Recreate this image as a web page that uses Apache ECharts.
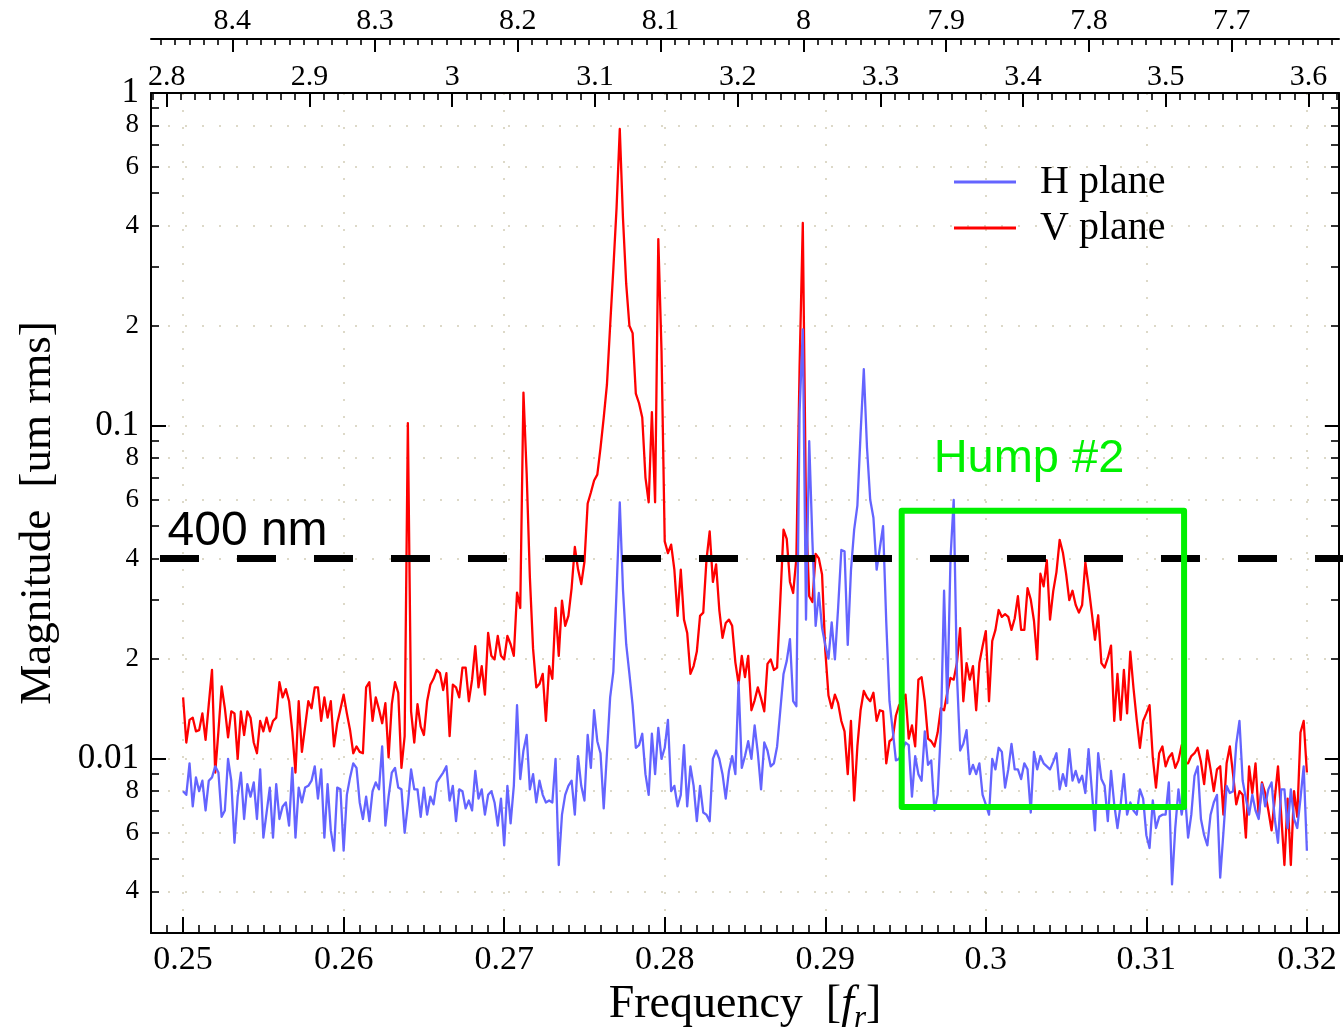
<!DOCTYPE html>
<html>
<head>
<meta charset="utf-8">
<title>H / V plane magnitude spectrum</title>
<script src="https://cdn.jsdelivr.net/npm/echarts@6/dist/echarts.min.js"></script>
<style>
  html, body { margin: 0; padding: 0; background: #ffffff; }
  #chart { width: 1344px; height: 1031px; }
</style>
</head>
<body>
<div id="chart"></div>
<script>
// Frequency bins of both spectra (units of f_r)
const FREQ_START = 0.25;
const FREQ_STEP = 0.0002;

// Vertical-plane magnitude, nm rms, one value per bin from 0.2500 to 0.3200
const vPlaneNm = [
  15.3, 11.2, 13.1, 13.3, 12.1, 12.2, 13.7, 11.4, 14.6, 18.5,
  9.1, 12.1, 16.5, 14.2, 11.6, 13.9, 13.7, 10.0, 13.9, 11.8,
  13.9, 13.3, 11.2, 10.4, 13.0, 12.1, 13.3, 12.1, 13.0, 13.3,
  17.0, 15.3, 16.2, 14.9, 12.1, 9.1, 14.9, 10.5, 12.5, 14.9,
  14.2, 16.4, 16.4, 13.0, 15.3, 13.3, 14.9, 10.9, 12.8, 14.1,
  15.6, 13.7, 12.2, 10.4, 10.9, 10.5, 10.4, 16.4, 17.0, 13.0,
  15.3, 14.1, 12.8, 14.7, 10.1, 14.6, 17.0, 15.8, 9.4, 11.7,
  102, 13.9, 11.2, 14.6, 12.5, 11.8, 14.9, 16.7, 17.4, 18.5,
  18.1, 16.1, 18.1, 11.7, 16.7, 16.4, 15.3, 18.8, 18.8, 14.9,
  17.3, 21.8, 16.4, 19.0, 15.6, 23.9, 20.4, 19.9, 23.4, 20.4,
  19.9, 23.4, 22.1, 20.4, 31.6, 28.4, 126, 72, 35.1, 21.4,
  16.4, 16.8, 18.0, 13.0, 19.0, 17.4, 28.4, 20.4, 29.9, 25.1,
  26.9, 32.6, 43.3, 37.1, 33.5, 39.1, 58.5, 63.1, 68.6, 71.4,
  86, 106, 133, 200, 297, 452, 780, 420, 267, 200,
  190, 125, 117, 106, 70, 59, 110, 59, 364, 168,
  45, 41.5, 44, 37, 26.9, 37, 26.2, 23.9, 18.0, 19.0,
  21.0, 26.9, 27.5, 39.6, 48.2, 34, 38.4, 28, 23.1, 25.6,
  26.2, 25.1, 19.5, 16.8, 20.4, 17.6, 20.4, 14.0, 15.0, 16.4,
  15.2, 13.9, 19.3, 19.9, 18.5, 18.8, 30, 48.8, 45.8, 34,
  31.5, 40, 150, 407, 55, 30.8, 29.6, 41.3, 40, 35.8,
  21.2, 15.5, 14.2, 15.6, 14.7, 13.0, 12.1, 9.0, 13.0, 7.5,
  10.9, 14.0, 16.0, 15.3, 14.9, 15.8, 13.0, 14.0, 13.9, 9.7,
  11.3, 11.5, 13.5, 14.5, 14.9, 15.6, 11.5, 12.6, 10.9, 17.3,
  17.6, 14.9, 11.5, 11.3, 10.9, 12.0, 14.2, 14.0, 15.8, 17.5,
  17.3, 19.4, 24.7, 14.9, 19.4, 17.3, 19.0, 14.0, 19.4, 21.8,
  24.2, 14.9, 22.6, 24.4, 28.0, 26.7, 27.2, 26.7, 24.4, 26.4,
  30.8, 24.4, 24.4, 32.6, 30.1, 26.0, 19.9, 36.0, 33.0, 39.5,
  26.2, 31.9, 36.4, 45.5, 41.7, 36.0, 30.0, 32.0, 29.0, 27.5,
  29.0, 38.9, 33.0, 27.5, 22.8, 27.0, 19.4, 18.8, 20.1, 21.9,
  13.0, 18.0, 13.1, 18.5, 13.7, 21.0, 16.3, 13.1, 10.8, 13.0,
  13.7, 14.5, 10.1, 8.2, 10.4, 10.9, 9.5, 10.1, 10.4, 9.4,
  9.9, 11.0, 9.7, 9.7, 10.2, 10.4, 10.8, 9.8, 8.4, 10.6,
  9.3, 8.0, 9.3, 9.5, 6.8, 9.7, 10.9, 9.0, 7.3, 8.0,
  7.8, 5.8, 9.5, 7.9, 9.7, 6.7, 8.5, 7.9, 7.0, 6.1,
  7.6, 9.5, 6.8, 4.8, 7.6, 4.8, 8.0, 6.7, 12.0, 13.0, 9.1
];

// Horizontal-plane magnitude, nm rms, same bins
const hPlaneNm = [
  8.0, 7.8, 9.7, 7.2, 8.8, 8.0, 8.6, 7.0, 8.6, 8.8,
  9.5, 9.1, 6.7, 7.0, 10.0, 8.6, 5.6, 7.7, 9.1, 6.6,
  8.4, 7.7, 8.5, 6.6, 9.3, 5.8, 6.9, 8.2, 5.8, 8.4,
  6.6, 7.2, 7.4, 6.3, 9.4, 5.8, 8.2, 7.4, 8.2, 8.3,
  8.6, 9.5, 7.6, 9.3, 5.8, 8.4, 6.1, 5.3, 8.2, 8.1,
  5.3, 7.8, 8.8, 9.7, 9.4, 7.4, 6.6, 7.7, 6.5, 8.0,
  8.5, 8.1, 10.9, 6.3, 7.7, 9.1, 9.4, 8.2, 8.1, 6.0,
  7.3, 9.3, 8.1, 8.1, 6.7, 8.2, 6.8, 7.7, 7.3, 8.5,
  8.8, 9.1, 9.5, 7.5, 8.3, 6.5, 8.1, 8.0, 7.1, 7.5,
  7.0, 9.2, 7.6, 8.1, 6.8, 7.8, 8.0, 7.4, 6.3, 7.6,
  5.5, 8.3, 6.4, 8.3, 14.5, 8.7, 10.6, 11.8, 8.1, 9.0,
  7.4, 8.6, 7.8, 7.4, 7.5, 7.4, 10.0, 4.8, 6.8, 7.8,
  8.3, 8.6, 6.8, 10.2, 8.3, 7.5, 11.8, 9.4, 14.0, 11.3,
  10.4, 7.1, 10.4, 15.3, 18.3, 32.0, 58.9, 32.2, 22.1, 18.0,
  14.5, 10.8, 11.0, 11.9, 9.0, 7.8, 11.9, 9.0, 12.4, 10.0,
  10.8, 13.1, 8.0, 8.3, 7.2, 7.8, 11.0, 7.2, 9.5, 8.3,
  6.5, 8.3, 6.9, 6.8, 6.5, 10.0, 10.6, 10.0, 9.0, 7.6,
  9.2, 10.2, 9.0, 17.0, 9.4, 10.2, 11.3, 10.0, 12.6, 10.4,
  8.1, 11.2, 10.6, 9.5, 9.7, 10.9, 14.0, 18.0, 19.7, 22.9,
  14.9, 14.4, 110, 195, 26.2, 90, 45, 25.1, 31.5, 24.7,
  22.0, 20.0, 25.7, 19.9, 28.4, 42.4, 42.0, 22.0, 36.8, 48.8,
  57.6, 95, 148, 86, 60, 53, 37, 43, 50, 25.7,
  14.9, 12.2, 9.9, 10.0, 10.6, 11.2, 11.0, 7.7, 10.2, 9.0,
  8.6, 12.1, 9.6, 9.9, 7.0, 7.8, 12.2, 32.0, 14.7, 40,
  60, 18.0, 10.6, 11.1, 12.2, 9.0, 9.6, 9.0, 9.7, 7.8,
  7.3, 6.8, 10.0, 9.3, 10.8, 10.5, 8.2, 9.3, 11.1, 9.3,
  9.3, 8.7, 9.7, 9.3, 6.9, 10.5, 9.3, 10.2, 9.7, 9.5,
  9.3, 9.8, 10.4, 8.1, 9.0, 8.3, 10.7, 8.6, 9.2, 8.5,
  8.9, 7.9, 10.7, 8.1, 6.1, 10.4, 8.7, 8.3, 6.5, 9.2,
  7.3, 6.2, 7.3, 9.0, 6.8, 7.4, 7.0, 6.8, 8.1, 7.6,
  5.9, 5.4, 7.5, 6.2, 6.7, 6.8, 6.8, 8.5, 4.2, 6.2,
  8.1, 6.8, 7.9, 5.8, 6.8, 8.9, 9.5, 6.6, 5.9, 5.5,
  6.8, 7.4, 7.8, 4.4, 6.0, 8.3, 7.9, 8.0, 11.1, 13.0,
  8.6, 7.6, 6.8, 7.8, 7.0, 6.6, 8.4, 7.2, 8.1, 8.5,
  6.6, 5.6, 8.1, 8.1, 6.2, 8.1, 6.6, 6.2, 7.6, 9.5, 5.3
];

// 400 nm reference level, drawn across the whole width
const thresholdUm = 0.04;
const thresholdSpan = [0.24856, 0.32231];

// "Hump #2" frame: frequency edges and magnitude edges (um rms)
const humpFreq = [0.29476, 0.31235];
const humpMag = [0.00717, 0.0556];

// Axis ranges
const FREQ_RANGE = [0.248, 0.322];
const MAG_RANGE = [0.003, 1];
const TUNE_RANGE = [2.789, 3.6213];        // upper scale, first row
const COMP_RANGE = [7.62484, 8.45694];     // upper scale, second row (decreasing)

// Tick labels
const freqTicks = [0.25, 0.26, 0.27, 0.28, 0.29, 0.30, 0.31, 0.32];
const freqTickLabels = ['0.25', '0.26', '0.27', '0.28', '0.29', '0.3', '0.31', '0.32'];
const tuneTicks = [2.8, 2.9, 3.0, 3.1, 3.2, 3.3, 3.4, 3.5, 3.6];
const tuneTickLabels = ['2.8', '2.9', '3', '3.1', '3.2', '3.3', '3.4', '3.5', '3.6'];
const compTicks = [8.4, 8.3, 8.2, 8.1, 8.0, 7.9, 7.8, 7.7];
const compTickLabels = ['8.4', '8.3', '8.2', '8.1', '8', '7.9', '7.8', '7.7'];
const magLabelValues = [0.004, 0.006, 0.008, 0.01, 0.02, 0.04, 0.06, 0.08, 0.1, 0.2, 0.4, 0.6, 0.8, 1];
const magLabelTexts = ['4', '6', '8', '0.01', '2', '4', '6', '8', '0.1', '2', '4', '6', '8', '1'];
const magDecades = [0.01, 0.1, 1];
const magGridValues = [0.004, 0.006, 0.008, 0.01, 0.02, 0.04, 0.06, 0.08, 0.1, 0.2, 0.4, 0.6, 0.8, 1];

const SERIF = "'Liberation Serif', 'Times New Roman', Times, serif";
const SANS = "'Liberation Sans', Arial, Helvetica, sans-serif";
const INK = '#000000';
const RED = '#ff0000';
const BLUE = '#6464ff';
const GREEN = '#00f000';
const DOTS = { color: '#d2cdb6', width: 1.5, type: [2, 15] };

// ---- derived tables ----
const freqAt = i => +(FREQ_START + FREQ_STEP * i).toFixed(4);
const vPlaneData = vPlaneNm.map((v, i) => [freqAt(i), v / 1000]);
const hPlaneData = hPlaneNm.map((v, i) => [freqAt(i), v / 1000]);
const thresholdData = thresholdSpan.map(f => [f, thresholdUm]);
const humpData = [
  [humpFreq[0], humpMag[1]], [humpFreq[1], humpMag[1]],
  [humpFreq[1], humpMag[0]], [humpFreq[0], humpMag[0]],
  [humpFreq[0], humpMag[1]]
];

function stepValues(from, to, step, digits) {
  const out = [];
  const n = Math.round((to - from) / step);
  for (let k = 0; k <= n; k++) out.push(+(from + k * step).toFixed(digits));
  return out;
}
const freqMinor = stepValues(0.248, 0.322, 0.001, 3);
const tuneMinor = stepValues(2.79, 3.62, 0.01, 2);
const compMinor = stepValues(7.63, 8.45, 0.01, 2);

const LOG = Math.log10;
const MAG_LOG = [LOG(MAG_RANGE[0]), LOG(MAG_RANGE[1])];
const magLabelLogs = magLabelValues.map(LOG);
const magDecadeLogs = magDecades.map(LOG);
const magGridLogs = magGridValues.map(LOG);
const magMinorLogs = [];
[0.001, 0.01, 0.1].forEach(d => {
  for (let m = 2; m <= 9; m++) {
    const v = m * d;
    if (v > 0.0031 && v < 0.99) magMinorLogs.push(LOG(v));
  }
});

function pick(values, texts, v) {
  let best = 0;
  for (let i = 1; i < values.length; i++) {
    if (Math.abs(values[i] - v) < Math.abs(values[best] - v)) best = i;
  }
  return texts[best];
}

const frameLine = { show: true, onZero: false, lineStyle: { color: INK, width: 2 } };
const noLine = { show: false, onZero: false };

function tickAxis(base, values, length, width) {
  return Object.assign({
    type: 'value',
    axisLine: noLine,
    axisTick: { show: true, inside: true, length: length, customValues: values,
                lineStyle: { color: INK, width: width } },
    axisLabel: { show: false },
    splitLine: { show: false }
  }, base);
}

const chart = echarts.init(document.getElementById('chart'), null, { renderer: 'canvas' });

chart.setOption({
  animation: false,
  backgroundColor: '#ffffff',
  grid: { left: 151, right: 5, top: 93, bottom: 98, containLabel: false, outerBoundsMode: 'none' },
  legend: {
    data: ['H plane', 'V plane'],
    orient: 'vertical',
    left: 954,
    top: 162,
    padding: 0,
    icon: 'rect',
    itemWidth: 62,
    itemHeight: 3,
    itemGap: 6,
    selectedMode: false,
    textStyle: { fontFamily: SERIF, fontSize: 40, lineHeight: 40, color: INK, padding: [0, 0, 0, 19] }
  },
  xAxis: [
    {
      type: 'value', min: FREQ_RANGE[0], max: FREQ_RANGE[1], position: 'bottom',
      axisLine: frameLine,
      axisTick: { show: true, inside: true, length: 16, customValues: freqTicks,
                  lineStyle: { color: INK, width: 2 } },
      axisLabel: { show: true, customValues: freqTicks, margin: 10,
                   formatter: v => pick(freqTicks, freqTickLabels, v),
                   fontFamily: SERIF, fontSize: 34, color: INK },
      splitLine: { show: true, lineStyle: DOTS },
      name: '{t|Frequency  [}{f|f}{s|r}{t|]}',
      nameLocation: 'middle',
      nameGap: 40,
      nameTextStyle: {
        fontFamily: SERIF, fontSize: 46, color: INK,
        rich: {
          t: { fontFamily: SERIF, fontSize: 46, color: INK, lineHeight: 58 },
          f: { fontFamily: SERIF, fontSize: 46, color: INK, fontStyle: 'italic', lineHeight: 58 },
          s: { fontFamily: SERIF, fontSize: 31, color: INK, fontStyle: 'italic', lineHeight: 31, verticalAlign: 'bottom' }
        }
      }
    },
    tickAxis({ min: FREQ_RANGE[0], max: FREQ_RANGE[1], position: 'bottom' }, freqMinor, 8, 1.6),
    {
      type: 'value', min: TUNE_RANGE[0], max: TUNE_RANGE[1], position: 'top', offset: 0,
      axisLine: frameLine,
      axisTick: { show: true, inside: true, length: 14, customValues: tuneTicks,
                  lineStyle: { color: INK, width: 2 } },
      axisLabel: { show: true, customValues: tuneTicks, margin: 1,
                   formatter: v => pick(tuneTicks, tuneTickLabels, v),
                   fontFamily: SERIF, fontSize: 30, color: INK },
      splitLine: { show: false }
    },
    tickAxis({ min: TUNE_RANGE[0], max: TUNE_RANGE[1], position: 'top', offset: 0 }, tuneMinor, 7, 1.6),
    {
      type: 'value', min: COMP_RANGE[0], max: COMP_RANGE[1], position: 'top', offset: 54, inverse: true,
      axisLine: frameLine,
      axisTick: { show: true, inside: true, length: 13, customValues: compTicks,
                  lineStyle: { color: INK, width: 2 } },
      axisLabel: { show: true, customValues: compTicks, margin: 3,
                   formatter: v => pick(compTicks, compTickLabels, v),
                   fontFamily: SERIF, fontSize: 30, color: INK },
      splitLine: { show: false }
    },
    tickAxis({ min: COMP_RANGE[0], max: COMP_RANGE[1], position: 'top', offset: 54, inverse: true }, compMinor, 6, 1.6)
  ],
  yAxis: [
    // scale used by the spectra and annotations
    { type: 'log', logBase: 10, min: MAG_RANGE[0], max: MAG_RANGE[1], show: false },
    {
      type: 'value', min: MAG_LOG[0], max: MAG_LOG[1], position: 'left', offset: 0,
      axisLine: frameLine,
      axisTick: { show: true, inside: true, length: 15, customValues: magDecadeLogs,
                  lineStyle: { color: INK, width: 2 } },
      axisLabel: {
        show: true, customValues: magLabelLogs, margin: 12,
        formatter: v => {
          const t = pick(magLabelLogs, magLabelTexts, v);
          return (t.indexOf('.') >= 0 || t === '1') ? '{big|' + t + '}' : '{small|' + t + '}';
        },
        rich: {
          big: { fontFamily: SERIF, fontSize: 35, color: INK },
          small: { fontFamily: SERIF, fontSize: 27, color: INK }
        }
      },
      splitLine: { show: false },
      name: 'Magnitude  [um rms]',
      nameLocation: 'middle',
      nameRotate: 90,
      nameGap: 90,
      nameTextStyle: { fontFamily: SERIF, fontSize: 45, color: INK }
    },
    tickAxis({ min: MAG_LOG[0], max: MAG_LOG[1], position: 'left', offset: 0 }, magMinorLogs, 8, 1.6),
    {
      type: 'value', min: MAG_LOG[0], max: MAG_LOG[1], position: 'left', offset: 0,
      axisLine: noLine,
      axisTick: { show: false, customValues: magGridLogs },
      axisLabel: { show: false },
      splitLine: { show: true, lineStyle: DOTS }
    },
    {
      type: 'value', min: MAG_LOG[0], max: MAG_LOG[1], position: 'right', offset: 0,
      axisLine: frameLine,
      axisTick: { show: true, inside: true, length: 14, customValues: magDecadeLogs,
                  lineStyle: { color: INK, width: 2 } },
      axisLabel: { show: false },
      splitLine: { show: false }
    },
    tickAxis({ min: MAG_LOG[0], max: MAG_LOG[1], position: 'right', offset: 0 }, magMinorLogs, 8, 1.6)
  ],
  series: [
    {
      name: 'V plane', type: 'line', xAxisIndex: 0, yAxisIndex: 0,
      data: vPlaneData, symbol: 'none', showSymbol: false,
      lineStyle: { color: RED, width: 2.3, join: 'round' },
      itemStyle: { color: RED },
      z: 3
    },
    {
      name: 'H plane', type: 'line', xAxisIndex: 0, yAxisIndex: 0,
      data: hPlaneData, symbol: 'none', showSymbol: false,
      lineStyle: { color: BLUE, width: 2.3, join: 'round' },
      itemStyle: { color: BLUE },
      z: 4
    },
    {
      name: '400 nm', type: 'line', xAxisIndex: 0, yAxisIndex: 0,
      data: thresholdData, symbol: 'none', showSymbol: false, clip: false, silent: true,
      lineStyle: { color: INK, width: 7, type: [39, 38], cap: 'butt' },
      z: 5,
      markPoint: {
        silent: true, symbol: 'circle', symbolSize: 1,
        itemStyle: { color: 'rgba(0,0,0,0)' },
        data: [{
          coord: [0.248685, 0.048],
          label: { show: true, position: 'right', distance: 5, formatter: '400 nm',
                   fontFamily: SANS, fontSize: 48, color: INK }
        }]
      }
    },
    {
      name: 'Hump #2', type: 'line', xAxisIndex: 0, yAxisIndex: 0,
      data: humpData, symbol: 'none', showSymbol: false, silent: true,
      lineStyle: { color: GREEN, width: 6, join: 'round', cap: 'round' },
      z: 6,
      markPoint: {
        silent: true, symbol: 'circle', symbolSize: 1,
        itemStyle: { color: 'rgba(0,0,0,0)' },
        data: [{
          coord: [0.30269, 0.0797],
          label: { show: true, position: 'inside', formatter: 'Hump #2',
                   fontFamily: SANS, fontSize: 47, color: GREEN }
        }]
      }
    }
  ]
});
</script>
</body>
</html>
